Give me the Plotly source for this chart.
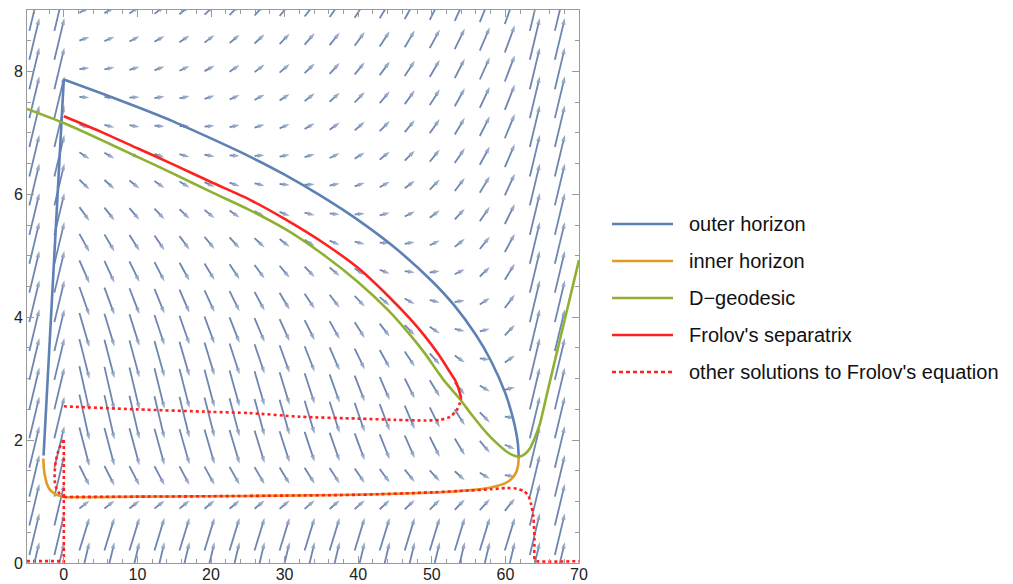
import plotly.graph_objects as go

# ---------------- data ----------------
x_range = [-5, 70]
y_range = [0, 9]
x_ticks = [0, 10, 20, 30, 40, 50, 60, 70]
y_ticks = [0, 2, 4, 6, 8]

# outer horizon (blue): rising branch and falling branch
outer_rise_v = [-2.75, 0.0]
outer_rise_r = [1.75, 7.87]
outer_v = [0.0, 5, 10, 15, 20, 25, 30, 35, 40, 45, 50, 53, 56, 58, 60, 61, 61.5, 61.7, 61.81]
outer_r = [7.87, 7.65, 7.42, 7.18, 6.91, 6.63, 6.32, 5.97, 5.58, 5.13, 4.59, 4.20, 3.71, 3.30, 2.76, 2.37, 2.10, 1.94, 1.73]

# inner horizon (orange)
inner_v = [-2.78, -2.72, -2.55, -2.3, -1.87, -1.4, -0.97, -0.5, 0, 10, 20, 30, 37, 45, 50, 53, 56, 58, 60, 61, 61.5, 61.7, 61.78, 61.81]
inner_r = [1.70, 1.55, 1.41, 1.29, 1.19, 1.14, 1.11, 1.09, 1.075, 1.08, 1.087, 1.097, 1.107, 1.126, 1.145, 1.164, 1.194, 1.23, 1.30, 1.39, 1.487, 1.573, 1.65, 1.73]

# D-geodesic (green)
geo_v = [-5, 0, 5, 10, 15, 20, 25, 30, 35, 40, 44.2, 47, 49, 51.6, 53.8, 55.5, 57.5, 59, 60.2, 61.0, 61.75, 62.5, 63.3, 64.0, 64.7, 65.4, 66.1, 68, 70]
geo_r = [7.39, 7.16, 6.89, 6.61, 6.33, 6.04, 5.76, 5.44, 5.04, 4.57, 4.10, 3.72, 3.42, 2.98, 2.67, 2.40, 2.11, 1.93, 1.81, 1.755, 1.73, 1.76, 1.86, 2.04, 2.27, 2.62, 2.98, 3.93, 4.93]

# Frolov's separatrix (red)
sep_v = [0, 5, 10, 15, 20, 25.3, 30, 35.4, 40, 44.2, 47, 49, 51, 52.5, 53.15, 53.6, 54.0]
sep_r = [7.27, 7.02, 6.75, 6.48, 6.20, 5.91, 5.60, 5.20, 4.80, 4.33, 3.98, 3.70, 3.38, 3.10, 2.98, 2.85, 2.68]

# other solutions to Frolov's equation (red dotted); None separates branches
other_v = [0, 10, 20, 25.3, 32.1, 40, 45, 49, 51.1, 52.5, 53.4, 53.8, 54.0, None,
           0, 10, 20, 30, 40, 50, 55, 58, 60.2, 61.5, 62.5, 63.1, 63.5, 63.8, 63.95, 64.0, 64.3, 70, None,
           0, -0.3, -0.75, -1.1, -1.25, -1.2, -0.95, -0.5, 0, None,
           0, 0, None,
           -5, 0]
other_r = [2.55, 2.50, 2.46, 2.44, 2.38, 2.35, 2.33, 2.32, 2.33, 2.38, 2.49, 2.60, 2.68, None,
           1.075, 1.08, 1.087, 1.097, 1.11, 1.15, 1.18, 1.20, 1.22, 1.21, 1.17, 1.10, 0.95, 0.75, 0.40, 0.05, 0.03, 0.03, None,
           2.0, 1.95, 1.82, 1.65, 1.45, 1.30, 1.20, 1.12, 1.075, None,
           2.0, 0.0, None,
           0.03, 0.03]

# direction field: arrow columns (v), mass at each column, arrow rows (r)
column_v = [-4.0, -0.6, 2.8, 6.2, 9.6, 13.0, 16.4, 19.8, 23.2, 26.6, 30.0, 33.4,
            36.8, 40.2, 43.6, 47.0, 50.4, 53.8, 57.2, 60.6, 64.0, 67.4]
column_mass = [0.0, 0.0, 3.94, 3.866, 3.789, 3.708, 3.624, 3.535, 3.442, 3.344, 3.240, 3.128,
               3.007, 2.876, 2.733, 2.571, 2.387, 2.168, 1.895, 1.504, 0.0, 0.0]
row_r = [0.0, 0.47, 0.95, 1.42, 1.89, 2.37, 2.84, 3.32, 3.79, 4.26, 4.74,
         5.21, 5.68, 6.16, 6.63, 7.11, 7.58, 8.05, 8.53, 9.0]
core_l = 1.0
arrow_len = 1.36

# ---------------- colours ----------------
C_BLUE = "#5E81B5"
C_ORANGE = "#E19C24"
C_GREEN = "#8FB032"
C_RED = "#FF2020"
C_FIELD = "rgb(78,108,162)"
FONT = "Liberation Sans, Arial, sans-serif"

# ---------------- build arrows ----------------
ax, ay, msize = [], [], []
for v, m in zip(column_v, column_mass):
    for r in row_r:
        if m > 0:
            f = 1 - 2 * m * r * r / (r ** 3 + 2 * m * core_l ** 2)
        else:
            f = 1.0
        dv = arrow_len
        dr = arrow_len * f / 2
        ax += [v - dv / 2, v + dv / 2, None]
        ay += [r - dr / 2, r + dr / 2, None]
        msize += [0, 7, 0]

fig = go.Figure()
fig.add_trace(go.Scatter(
    x=ax, y=ay, mode="lines+markers",
    line=dict(color=C_FIELD, width=1.8),
    marker=dict(symbol="arrow", size=msize, angleref="previous", color=C_FIELD,
                line=dict(width=0)),
    hoverinfo="skip", showlegend=False, opacity=0.82))

LW = 2.6
fig.add_trace(go.Scatter(x=outer_rise_v, y=outer_rise_r, mode="lines", name="outer horizon",
                         line=dict(color=C_BLUE, width=LW), showlegend=False))
curves = [
    (outer_v, outer_r, C_BLUE, "solid", "outer horizon"),
    (inner_v, inner_r, C_ORANGE, "solid", "inner horizon"),
    (geo_v, geo_r, C_GREEN, "solid", "D\u2212geodesic"),
    (sep_v, sep_r, C_RED, "solid", "Frolov's separatrix"),
    (other_v, other_r, C_RED, "dot", "other solutions to Frolov's equation"),
]
for xs, ys, col, dash, name in curves:
    fig.add_trace(go.Scatter(x=xs, y=ys, mode="lines", name=name,
                             line=dict(color=col, width=LW, dash=dash,
                                       shape="spline", smoothing=0.7),
                             showlegend=False))

# ---------------- layout ----------------
L, R, T, B = 27, 434, 10, 21
W, H = 1013, 584
pw, ph = W - L - R, H - T - B

axis_common = dict(
    showgrid=False, zeroline=False, showline=True, linecolor="#9a9a9a", linewidth=1,
    mirror="allticks", ticks="inside", ticklen=7, tickwidth=1, tickcolor="#9a9a9a",
    tickfont=dict(family=FONT, size=16, color="#222222"), automargin=False,
)
fig.update_xaxes(range=x_range, tickvals=x_ticks, ticklabelstandoff=-3,
                 minor=dict(dtick=2, tick0=0, ticklen=4, tickcolor="#9a9a9a", ticks="inside"),
                 **axis_common)
fig.update_yaxes(range=y_range, tickvals=y_ticks,
                 minor=dict(dtick=0.5, tick0=0, ticklen=4, tickcolor="#9a9a9a", ticks="inside"),
                 **axis_common)

# legend drawn beside the frame (Mathematica style)
legend_rows_px = [224, 261, 298, 335, 372]
shapes, annots = [], []
x0 = (612 - L) / pw
x1 = (673 - L) / pw
xt = (687 - L) / pw
for (xs, ys, col, dash, name), ypx in zip(curves, legend_rows_px):
    yp = (H - B - ypx) / ph
    shapes.append(dict(type="line", xref="paper", yref="paper", x0=x0, x1=x1, y0=yp, y1=yp,
                       line=dict(color=col, width=LW, dash=("4px,3px" if dash == "dot" else dash))))
    annots.append(dict(xref="paper", yref="paper", x=xt, y=yp, text=name, showarrow=False,
                       xanchor="left", yanchor="middle",
                       font=dict(family=FONT, size=20, color="#111111")))

fig.update_layout(
    width=W, height=H, margin=dict(l=L, r=R, t=T, b=B, autoexpand=False),
    paper_bgcolor="white", plot_bgcolor="white",
    shapes=shapes, annotations=annots, showlegend=False,
)

fig.write_html("out.html")
